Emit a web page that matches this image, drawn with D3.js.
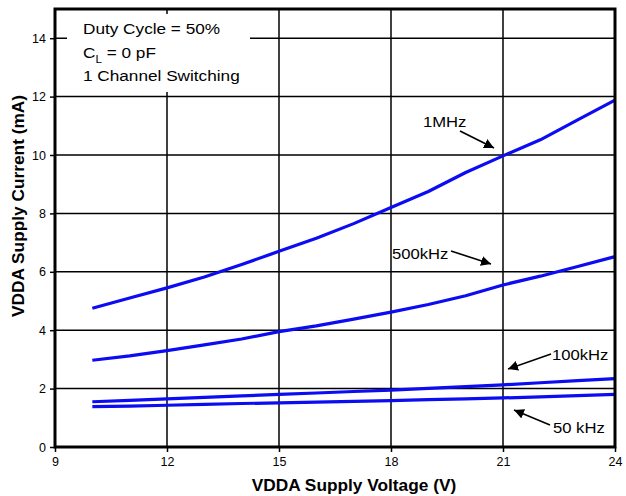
<!DOCTYPE html>
<html><head><meta charset="utf-8">
<script src="https://cdn.jsdelivr.net/npm/d3@7"></script>
<style>body{margin:0;background:#fff}svg{display:block;font-family:"Liberation Sans",Arial,sans-serif}</style>
</head><body><svg id="c" width="626" height="496"></svg>
<script>
const xTicks = [9, 12, 15, 18, 21, 24];
const yTicks = [0, 2, 4, 6, 8, 10, 12, 14];
const voltage = [10, 11, 12, 13, 14, 15, 16, 17, 18, 19, 20, 21, 22, 23, 24];
const i1MHz   = [4.75, 5.1, 5.45, 5.82, 6.25, 6.7, 7.15, 7.65, 8.2, 8.75, 9.4, 9.97, 10.52, 11.2, 11.88];
const i500kHz = [2.97, 3.12, 3.3, 3.5, 3.7, 3.95, 4.15, 4.38, 4.62, 4.88, 5.18, 5.55, 5.85, 6.18, 6.52];
const i100kHz = [1.55, 1.6, 1.65, 1.7, 1.75, 1.8, 1.85, 1.9, 1.95, 2.01, 2.07, 2.13, 2.2, 2.27, 2.34];
const i50kHz  = [1.38, 1.4, 1.43, 1.46, 1.49, 1.51, 1.54, 1.56, 1.59, 1.62, 1.65, 1.68, 1.72, 1.76, 1.8];
const seriesNames = ["1MHz", "500kHz", "100kHz", "50 kHz"];
const seriesValues = [i1MHz, i500kHz, i100kHz, i50kHz];
const legendLines = ["Duty Cycle = 50%", "C_L = 0 pF", "1 Channel Switching"];

const svg = d3.select("#c");
const L = 55, R = 615, T = 9, B = 447;
const x = d3.scaleLinear().domain([9, 24]).range([L, R]);
const y = d3.scaleLinear().domain([0, 15]).range([B, T]);
const SX = 1.11; // horizontal stretch of the reference's text

// grid
const g = svg.append("g");
g.selectAll(".vg").data(xTicks).enter().append("line")
  .attr("x1", d => x(d)).attr("x2", d => x(d)).attr("y1", T).attr("y2", B)
  .attr("stroke", "#000").attr("stroke-width", 1.5);
g.selectAll(".hg").data(yTicks).enter().append("line")
  .attr("x1", L).attr("x2", R).attr("y1", d => y(d)).attr("y2", d => y(d))
  .attr("stroke", "#000").attr("stroke-width", 1.5);

// legend box (covers grid)
svg.append("rect").attr("x", 67).attr("y", 14).attr("width", 183).attr("height", 78).attr("fill", "#fff");
function stext(px, py, size) {
  return svg.append("text").attr("transform", `translate(${px},${py}) scale(${SX},1)`)
    .attr("font-size", size).attr("fill", "#000");
}
stext(83, 34, 15.5).text(legendLines[0]);
const t2 = stext(83, 58, 15.5);
t2.append("tspan").text("C");
t2.append("tspan").attr("font-size", 10.5).attr("dy", 5).text("L");
t2.append("tspan").attr("dy", -5).text(" = 0 pF");
stext(83, 81, 15.5).text(legendLines[2]);

// axes ticks & labels
const xa = svg.append("g").attr("transform", `translate(0,${B})`)
  .call(d3.axisBottom(x).tickValues(xTicks).tickSize(5).tickPadding(5).tickFormat(d3.format("d")));
const ya = svg.append("g").attr("transform", `translate(${L},0)`)
  .call(d3.axisLeft(y).tickValues(yTicks).tickSize(5).tickPadding(4).tickFormat(d3.format("d")));
[xa, ya].forEach(a => {
  a.select(".domain").remove();
  a.selectAll("line").attr("stroke", "#000").attr("stroke-width", 1.5);
  a.selectAll("text").attr("font-size", 12.5).attr("fill", "#000").attr("font-family", "Liberation Sans, Arial, sans-serif");
});

// curves
const line = d3.line().x((d, i) => x(voltage[i])).y(d => y(d));
svg.selectAll(".curve").data(seriesValues).enter().append("path")
  .attr("d", d => line(d)).attr("fill", "none").attr("stroke", "#0c0cf2").attr("stroke-width", 3.2)
  .attr("stroke-linejoin", "round");

// frame
svg.append("rect").attr("x", L).attr("y", T).attr("width", R - L).attr("height", B - T)
  .attr("fill", "none").attr("stroke", "#000").attr("stroke-width", 3);

// annotations
const defs = svg.append("defs");
defs.append("marker").attr("id", "ah").attr("viewBox", "0 0 10 10").attr("refX", 10).attr("refY", 5)
  .attr("markerWidth", 10).attr("markerHeight", 10).attr("markerUnits", "userSpaceOnUse").attr("orient", "auto")
  .append("path").attr("d", "M0,0 L10,5 L0,10 z").attr("fill", "#000");
const ann = [
  {t: seriesNames[0], tx: 423, ty: 127, a: [460, 131, 494, 148]},
  {t: seriesNames[1], tx: 392, ty: 259, a: [451, 251, 491, 264]},
  {t: seriesNames[2], tx: 552, ty: 360, a: [551, 354, 508, 369]},
  {t: seriesNames[3], tx: 553, ty: 433, a: [550, 425, 514, 410]}
];
ann.forEach(a => {
  stext(a.tx, a.ty, 15).text(a.t);
  svg.append("line").attr("x1", a.a[0]).attr("y1", a.a[1]).attr("x2", a.a[2]).attr("y2", a.a[3])
    .attr("stroke", "#000").attr("stroke-width", 1.6).attr("marker-end", "url(#ah)");
});

// axis titles
svg.append("text").attr("x", (L + R) / 2 + 19).attr("y", 491).attr("text-anchor", "middle")
  .attr("font-size", 17.3).attr("font-weight", "bold").text("VDDA Supply Voltage (V)");
svg.append("text").attr("transform", `translate(24,206) rotate(-90)`).attr("text-anchor", "middle")
  .attr("font-size", 17.3).attr("font-weight", "bold").text("VDDA Supply Current (mA)");
</script></body></html>
